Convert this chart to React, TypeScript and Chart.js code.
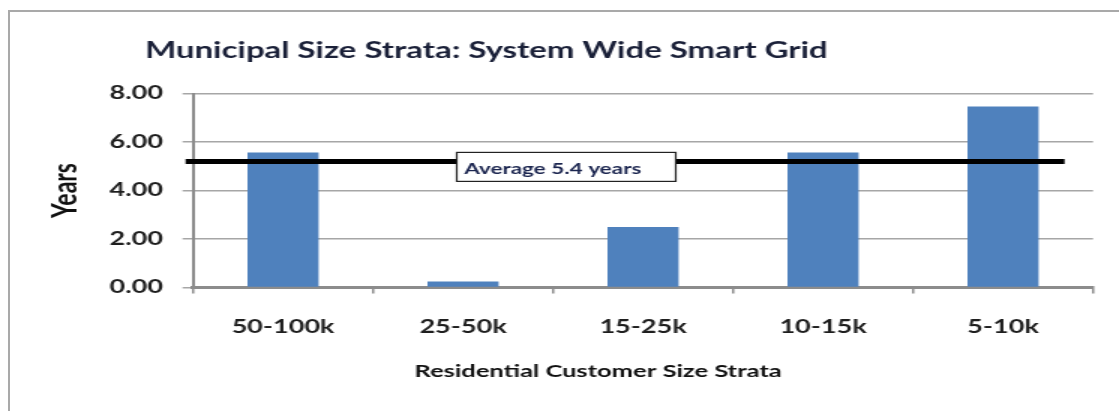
import React, { useEffect, useRef } from "react";
import { Chart, registerables } from "chart.js";

Chart.register(...registerables);

const CHART_TITLE = "Municipal Size Strata: System Wide Smart Grid";
const X_TITLE = "Residential Customer Size Strata";
const Y_TITLE = "Years";
const CATEGORIES = ["50-100k", "25-50k", "15-25k", "10-15k", "5-10k"];
const YEARS = [5.57, 0.25, 2.5, 5.57, 7.46];
const Y_TICK_LABELS = ["0.00", "2.00", "4.00", "6.00", "8.00"];
const Y_MIN = 0;
const Y_MAX = 8;
const Y_STEP = 2;
const AVERAGE_LINE_VALUE = 5.2;
const AVERAGE_LABEL = "Average 5.4 years";

const STRETCH = 1.5;
const PAGE_W = 1119;
const PAGE_H = 411;
const CANVAS_W = Math.round(PAGE_W / STRETCH);

const FONT = "Lato";

const textPlugin = {
  id: "customTexts",
  afterDraw(chart: any) {
    const { ctx, chartArea } = chart;
    ctx.save();
    ctx.font = `bold 22px ${FONT}`;
    ctx.fillStyle = "#1a2038";
    ctx.textBaseline = "middle";
    ctx.textAlign = "left";
    ctx.fillText(CHART_TITLE, chartArea.left - 32, 51);

    ctx.font = `bold 17px ${FONT}`;
    ctx.fillStyle = "#111";
    ctx.textAlign = "center";
    ctx.fillText(X_TITLE, (chartArea.left + chartArea.right) / 2 - 30, 372);
    ctx.restore();
  },
};

const averagePlugin = {
  id: "averageLine",
  afterDatasetsDraw(chart: any) {
    const { ctx, chartArea, scales } = chart;
    const y = scales.y.getPixelForValue(AVERAGE_LINE_VALUE);
    ctx.save();
    ctx.strokeStyle = "#000";
    ctx.lineWidth = 5;
    ctx.beginPath();
    ctx.moveTo(chartArea.left - 5, y);
    ctx.lineTo(chartArea.right - 19, y);
    ctx.stroke();
    const bx = chartArea.left + chartArea.width * 0.293;
    const bw = 146;
    const by = y - 9;
    const bh = 29;
    ctx.fillStyle = "#fff";
    ctx.fillRect(bx, by, bw, bh);
    ctx.lineWidth = 1.2;
    ctx.strokeStyle = "#222";
    ctx.strokeRect(bx, by, bw, bh);
    ctx.fillStyle = "#1c2650";
    ctx.font = `bold 15px ${FONT}`;
    ctx.textBaseline = "middle";
    ctx.textAlign = "left";
    ctx.fillText(AVERAGE_LABEL, bx + 5, by + bh / 2 + 2);
    ctx.restore();
  },
};

export default function App() {
  const ref = useRef<HTMLCanvasElement | null>(null);

  useEffect(() => {
    const canvas = ref.current;
    if (!canvas) return;
    const chart = new Chart(canvas, {
      type: "bar",
      data: {
        labels: CATEGORIES,
        datasets: [
          {
            label: Y_TITLE,
            data: YEARS,
            backgroundColor: "#4f81bd",
            borderWidth: 0,
            barPercentage: 0.395,
            categoryPercentage: 1,
          },
        ],
      },
      options: {
        responsive: false,
        animation: false,
        devicePixelRatio: 1,
        layout: { padding: { top: 93.5, bottom: 11, left: 0, right: 17.3 } },
        plugins: {
          legend: { display: false },
          tooltip: { enabled: false },
          title: { display: false },
        },
        scales: {
          x: {
            grid: {
              display: true,
              drawOnChartArea: false,
              drawTicks: true,
              tickLength: 6,
              color: "#8c8c8c",
              lineWidth: 1.5,
              offset: true,
            },
            border: { display: true, color: "#8c8c8c", width: 3 },
            ticks: {
              font: { family: FONT, weight: "bold", size: 18 },
              color: "#1e1e1e",
              padding: 23,
            },
            title: { display: false },
            afterFit(axis: any) {
              axis.height = 112.5;
            },
          },
          y: {
            min: Y_MIN,
            max: Y_MAX,
            ticks: {
              stepSize: Y_STEP,
              font: { family: FONT, weight: "bold", size: 18 },
              color: "#1e1e1e",
              padding: 13,
              callback: (_v: any, i: number) => Y_TICK_LABELS[i],
            },
            grid: {
              color: "#a6a6a6",
              lineWidth: 1.5,
              tickLength: 7,
            },
            border: { display: true, color: "#8c8c8c", width: 2 },
            title: {
              display: true,
              text: Y_TITLE,
              font: { family: FONT, weight: "bold", size: 23 },
              color: "#111",
              padding: { top: 30, bottom: 0 },
            },
            afterFit(axis: any) {
              axis.width = 128.7;
            },
          },
        },
      },
      plugins: [averagePlugin, textPlugin],
    });
    return () => chart.destroy();
  }, []);

  return (
    <div style={{ position: "absolute", left: 0, top: 0, width: PAGE_W, height: PAGE_H, overflow: "hidden", background: "#fff" }}>
      <div
        style={{
          position: "absolute",
          left: 8,
          top: 10,
          width: 1200,
          height: 500,
          border: "2px solid #a9a9a9",
        }}
      />
      <canvas
        ref={ref}
        width={CANVAS_W}
        height={PAGE_H}
        style={{
          position: "absolute",
          left: 0,
          top: 0,
          width: CANVAS_W,
          height: PAGE_H,
          transform: `scaleX(${STRETCH})`,
          transformOrigin: "0 0",
        }}
      />
    </div>
  );
}
